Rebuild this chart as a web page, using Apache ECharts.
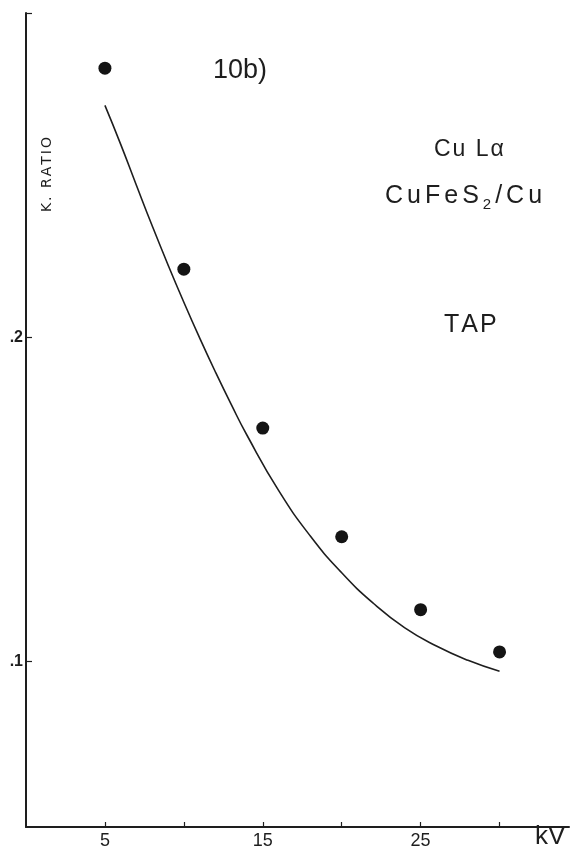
<!DOCTYPE html>
<html>
<head>
<meta charset="utf-8">
<script src="https://cdn.jsdelivr.net/npm/echarts@6/dist/echarts.min.js"></script>
<style>
  html, body { margin: 0; padding: 0; background: #ffffff; }
  #chart { width: 570px; height: 852px; }
</style>
</head>
<body>
<div id="chart"></div>
<script>
// Accelerating voltage (kV) axis ticks and labels
const kvTicks = [5, 10, 15, 20, 25, 30];
const kvLabels = [5, 15, 25];
// K-ratio axis ticks / labels
const ratioTicks = [0.1, 0.2, 0.3];
const ratioLabels = [0.1, 0.2];

// Measured K-ratios (dots)
const measuredKV = [5, 10, 15, 20, 25, 30];
const measuredRatio = [0.283, 0.221, 0.172, 0.1385, 0.116, 0.103];

// Calculated K-ratio curve
const curveKV = [5, 6, 7, 8, 9, 10, 11, 12, 13, 14, 16, 18, 20, 22, 24, 26, 28, 30];
const curveRatio = [0.2715, 0.2595, 0.2468, 0.2343, 0.2223, 0.2108, 0.1998, 0.1893, 0.1793, 0.1698,
                    0.1528, 0.1388, 0.1274, 0.118, 0.1104, 0.1048, 0.1004, 0.097];

const ink = '#1e1e1e';

// Spread a string into per-character rich tokens so it can be tracked out
function spaced(str, style) {
  return str.split('').map(ch => '{' + style + '|' + ch + '}').join('');
}

const chart = echarts.init(document.getElementById('chart'), null, { renderer: 'canvas' });

chart.setOption({
  backgroundColor: '#ffffff',
  animation: false,
  grid: { left: 26, right: 1, top: 13, bottom: 25, containLabel: false },
  xAxis: {
    type: 'value',
    min: 0,
    max: 34.4,
    axisLine: { show: true, lineStyle: { color: ink, width: 2 } },
    axisTick: { show: true, inside: true, length: 5, customValues: kvTicks, lineStyle: { color: ink, width: 1.2 } },
    axisLabel: { show: true, customValues: kvLabels, color: ink, fontSize: 18, fontFamily: 'Liberation Sans', margin: 5 },
    splitLine: { show: false }
  },
  yAxis: {
    type: 'value',
    min: 0.049,
    max: 0.3,
    axisLine: { show: true, lineStyle: { color: ink, width: 2 } },
    axisTick: { show: true, inside: true, length: 6, customValues: ratioTicks, lineStyle: { color: ink, width: 1.2 } },
    axisLabel: {
      show: true, customValues: ratioLabels, color: ink, fontSize: 16, fontFamily: 'Liberation Sans', fontWeight: 'bold', margin: 3,
      formatter: v => '.' + Math.round(v * 10)
    },
    splitLine: { show: false }
  },
  graphic: [
    {
      type: 'text', left: 40, top: 137, rotation: Math.PI / 2,
      style: {
        text: spaced('K. RATIO', 'c'),
        rich: { c: { fill: ink, font: '14px "DejaVu Sans"', padding: [0, 2, 0, 0] } }
      }
    },
    {
      type: 'text', left: 213, top: 57,
      style: { text: '10b)', fill: ink, font: '27px "Liberation Sans"' }
    },
    {
      type: 'text', left: 434, top: 138,
      style: {
        text: '{c|C}{c|u}{c| }{c|L}{c|\u03b1}',
        rich: { c: { fill: ink, font: '23px "Liberation Sans"', padding: [0, 2, 0, 0] } }
      }
    },
    {
      type: 'text', left: 385, top: 184,
      style: {
        text: spaced('CuFeS', 'm') + '{s|2}' + spaced('/Cu', 'm'),
        rich: {
          m: { fill: ink, font: '25px "Liberation Sans"', padding: [0, 4, 0, 0] },
          s: { fill: ink, font: '15px "Liberation Sans"', padding: [16, 4, 0, 0] }
        }
      }
    },
    {
      type: 'text', left: 444, top: 313,
      style: {
        text: spaced('TAP', 't'),
        rich: { t: { fill: ink, font: '25px "Liberation Sans"', padding: [0, 2, 0, 0] } }
      }
    },
    {
      type: 'text', left: 535, top: 824,
      style: { text: 'kV', fill: ink, font: '26px "Liberation Sans"' }
    }
  ],
  series: [
    {
      type: 'line',
      smooth: 0.5,
      symbol: 'none',
      lineStyle: { color: ink, width: 1.6 },
      data: curveKV.map((k, i) => [k, curveRatio[i]])
    },
    {
      type: 'scatter',
      symbol: 'circle',
      symbolSize: 13,
      itemStyle: { color: '#141414', opacity: 1 },
      data: measuredKV.map((k, i) => [k, measuredRatio[i]])
    }
  ]
});
</script>
</body>
</html>
